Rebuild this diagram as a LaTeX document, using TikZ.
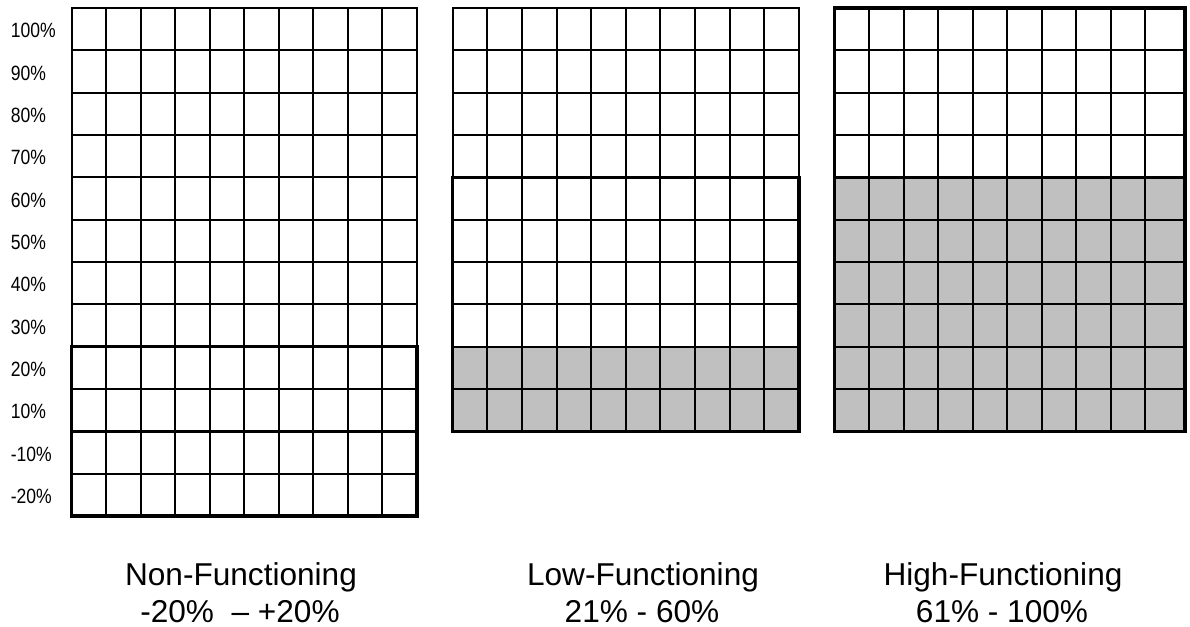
\documentclass[tikz,border=0pt]{standalone}
\usepackage{fontspec}
\setmainfont{Liberation Sans}
\definecolor{gridgrey}{HTML}{C0C0C0}
\begin{document}
\begin{tikzpicture}[x=0.75pt,y=-0.75pt,
  thinline/.style={line width=1.5pt},
  thickline/.style={line width=2.6pt},
  shaded/.style={fill=gridgrey},
  axislabel/.style={anchor=west,inner sep=0pt,font=\fontsize{15.5}{15.5}\selectfont},
  caplabel/.style={anchor=base,inner sep=0pt,font=\fontsize{23.7}{27.75}\selectfont}]
\useasboundingbox (0,0) rectangle (1190,627);

% ---------- Grid 1 : Non-Functioning ----------
\def\ax{71.5}\def\bx{417}\def\ay{8}\def\rh{42.33}
\foreach \i in {1,...,9}{\draw[thinline] ({\ax+\i*34.55},\ay) -- ({\ax+\i*34.55},516);}
\foreach \j in {1,...,11}{\draw[thinline] (\ax,{\ay+\j*\rh}) -- (\bx,{\ay+\j*\rh});}
\draw[thinline] (\ax,\ay) rectangle (\bx,516);
\draw[thickline] (\ax,346.6) rectangle (\bx,431.3);
\draw[thickline] (\ax,431.3) rectangle (\bx,516);

% axis labels
\foreach \t [count=\k from 0] in {100,90,80,70,60,50,40,30,20,10,-10,-20}{
  \node[axislabel] (lab\k) at (10.5,{\ay+\k*\rh+\rh/2+1.5}) {\scalebox{0.85}[1]{\t\%}};
}

% ---------- Grid 2 : Low-Functioning ----------
\def\cx{452.7}\def\dx{799}
\fill[shaded] (\cx,346.6) rectangle (\dx,431.3);
\foreach \i in {1,...,9}{\draw[thinline] ({\cx+\i*34.63},\ay) -- ({\cx+\i*34.63},431.3);}
\foreach \j in {1,...,9}{\draw[thinline] (\cx,{\ay+\j*\rh}) -- (\dx,{\ay+\j*\rh});}
\draw[thinline] (\cx,\ay) rectangle (\dx,431.3);
\draw[thickline] (\cx,177.3) rectangle (\dx,431.3);

% ---------- Grid 3 : High-Functioning ----------
\def\ex{834.5}\def\fx{1185}
\fill[shaded] (\ex,177.3) rectangle (\fx,431.3);
\foreach \i in {1,...,9}{\draw[thinline] ({\ex+\i*34.5},\ay) -- ({\ex+\i*34.5},431.3);}
\foreach \j in {1,...,9}{\draw[thinline] (\ex,{\ay+\j*\rh}) -- (\fx,{\ay+\j*\rh});}
\draw[thickline] (\ex,\ay) rectangle (\fx,431.3);
\draw[thickline] (\ex,177.3) -- (\fx,177.3);

% ---------- Captions ----------
\node[caplabel] (capA1) at (241,585) {Non-Functioning};
\node[caplabel] (capA2) at (240,622) {-20\%\ \ -- +20\%};
\node[caplabel] (capB1) at (643,585) {Low-Functioning};
\node[caplabel] (capB2) at (642,622) {21\% - 60\%};
\node[caplabel] (capC1) at (1003,585) {High-Functioning};
\node[caplabel] (capC2) at (1002,622) {61\% - 100\%};
\end{tikzpicture}
\end{document}
